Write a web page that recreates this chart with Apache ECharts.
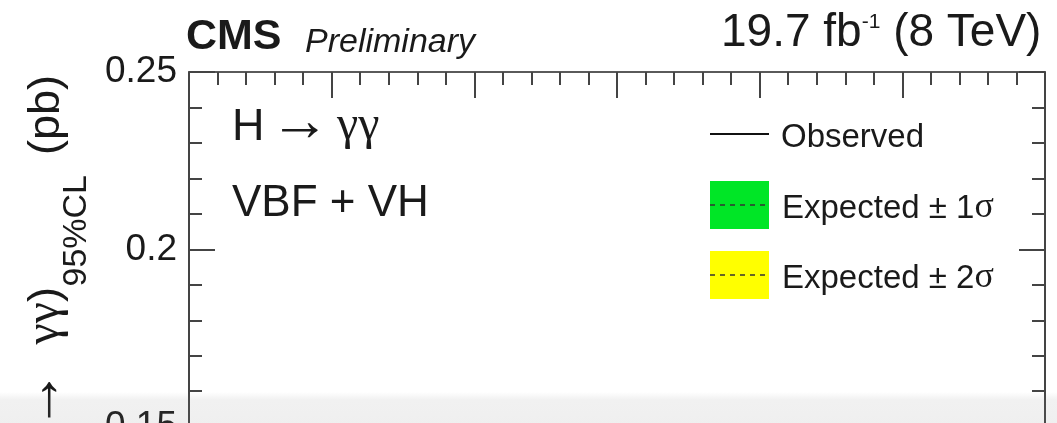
<!DOCTYPE html>
<html>
<head>
<meta charset="utf-8">
<script src="https://cdn.jsdelivr.net/npm/echarts@6/dist/echarts.min.js"></script>
<style>
  html, body { margin: 0; padding: 0; background: #fff; overflow: hidden; }
  #chart { width: 1057px; height: 640px; }
</style>
</head>
<body>
<div id="chart"></div>
<script>
// ---- data (curves lie below the visible part of the plot) ----
const xRange = [200, 800];           // x axis extent (labels off-screen)
const yRange = [0.10, 0.25];         // y axis extent
const yTickValues = [0.1, 0.15, 0.2, 0.25];
const observed = [];                 // observed limit (not visible in crop)
const expected = [];                 // expected limit (not visible in crop)
const legendLabels = ['Observed', 'Expected \u00b1 1\u03c3', 'Expected \u00b1 2\u03c3'];
const cmsLabel = 'CMS';
const prelimLabel = 'Preliminary';
const lumiMain = '19.7 fb';
const lumiSup = '-1';
const lumiEnd = ' (8 TeV)';
const channelLines = ['H \u2192 \u03b3\u03b3', 'VBF + VH'];

const SANS = "'Liberation Sans', Arial, Helvetica, sans-serif";
const SERIF = "'Liberation Serif', 'Times New Roman', serif";
const ARROW = SANS;
const INK = '#1a1a1a';
const AX = '#444';
const MID = 0.3465;   // baseline offset below text middle, in em

const mctx = document.createElement('canvas').getContext('2d');
function measure(t, size, fam, bold, italic) {
  mctx.font = (italic ? 'italic ' : '') + (bold ? 'bold ' : '') + size + 'px ' + fam;
  return mctx.measureText(t).width;
}

function txt(x, y, text, size, opts) {
  opts = opts || {};
  return {
    type: 'text', x: x, y: y, z: 100,
    style: {
      text: text, fontFamily: opts.fam || SANS, fontSize: size,
      fontWeight: opts.bold ? 'bold' : 'normal',
      fontStyle: opts.italic ? 'italic' : 'normal',
      fill: opts.color || INK,
      align: opts.align || 'left',
      verticalAlign: 'middle'
    }
  };
}
function base(x, baseline, text, size, opts) {
  return txt(x, baseline - MID * size, text, size, opts);
}
function seq(x, baseline, pieces) {
  const out = [];
  let cx = x;
  pieces.forEach(p => {
    const fam = p.fam || SANS;
    const y = (p.mid !== undefined) ? p.mid : (baseline + (p.dy || 0) - MID * p.size);
    out.push(txt(cx, y, p.t, p.size, { fam: fam }));
    cx += measure(p.t, p.size, fam);
  });
  return out;
}
function seqWidth(pieces) {
  return pieces.reduce((s, p) => s + measure(p.t, p.size, p.fam || SANS), 0);
}

const chart = echarts.init(document.getElementById('chart'), null, { renderer: 'canvas' });

const tickStyle = { color: AX, width: 2 };
function yAxisCfg(pos, showLabels) {
  return {
    type: 'value', position: pos, min: yRange[0], max: yRange[1], interval: 0.05,
    axisLine: { show: true, lineStyle: { color: AX, width: 2 } },
    axisTick: { show: true, inside: true, length: 26, lineStyle: tickStyle },
    minorTick: { show: true, splitNumber: 5, length: 13, lineStyle: tickStyle },
    splitLine: { show: false },
    axisLabel: {
      show: showLabels, margin: 12, fontSize: 37, fontFamily: SANS, color: INK,
      formatter: v => {
        const t = yTickValues.find(k => Math.abs(k - v) < 1e-9);
        return t === undefined ? '' : String(+t.toFixed(2));
      }
    }
  };
}
function xAxisCfg(pos) {
  return {
    type: 'value', position: pos, min: xRange[0], max: xRange[1], interval: 100,
    axisLine: { show: true, onZero: false, lineStyle: { color: pos === 'top' ? '#5a5a5a' : AX, width: 2 } },
    axisTick: { show: true, inside: true, length: 26, lineStyle: tickStyle },
    minorTick: { show: true, splitNumber: 5, length: 13, lineStyle: tickStyle },
    splitLine: { show: false },
    axisLabel: { show: false }
  };
}

const graphics = [];
// top labels
graphics.push(base(186, 52, cmsLabel, 43, { bold: true }));
graphics.push(base(305, 54, prelimLabel, 34, { italic: true }));
graphics.push(...seq(721, 49, [
  { t: lumiMain, size: 46 },
  { t: lumiSup, size: 21, dy: -20 },
  { t: lumiEnd, size: 46 }
]));
// channel text
graphics.push(base(232, 143, 'H', 45));
graphics.push(txt(270, 123, '\u2192', 60, { fam: ARROW }));
graphics.push(base(337, 143, '\u03b3\u03b3', 48, { fam: SERIF }));
graphics.push(base(232, 219, channelLines[1], 44));

// legend
graphics.push({ type: 'line', z: 100, shape: { x1: 710, y1: 134, x2: 769, y2: 134 },
  style: { stroke: '#111', lineWidth: 2 } });
graphics.push(base(781, 149.5, legendLabels[0], 33));
[[181, '#00e626', 220, 'Expected \u00b1 1'], [251, '#ffff00', 290, 'Expected \u00b1 2']].forEach(r => {
  graphics.push({ type: 'rect', z: 100, shape: { x: 710, y: r[0], width: 59, height: 48 },
    style: { fill: r[1] } });
  graphics.push({ type: 'line', z: 101, shape: { x1: 710, y1: r[0] + 24, x2: 769, y2: r[0] + 24 },
    style: { stroke: '#333', lineWidth: 1.5, lineDash: [5, 5] } });
  graphics.push(...seq(782, r[2], [
    { t: r[3], size: 33 },
    { t: '\u03c3', size: 36, fam: SERIF }
  ]));
});

// rotated y-axis title: sigma(H -> gamma gamma)_95%CL (pb), reading bottom to top
const TB = 62;    // main baseline (screen x)
const titlePieces = [
  { t: '\u03c3', size: 48, fam: SERIF },
  { t: '(H ', size: 45 },
  { t: '\u2192', size: 60, fam: ARROW, mid: 42 },
  { t: '  ', size: 45 },
  { t: '\u03b3\u03b3', size: 48, fam: SERIF },
  { t: ')', size: 45 }
];
const titleStart = -212 - seqWidth(titlePieces);
const unitW = measure('(pb)', 45, SANS);
const subW = measure('95%CL', 34, SANS);
graphics.push({
  type: 'group', x: 0, y: 75, rotation: Math.PI / 2, z: 100,
  children: [].concat(
    seq(titleStart, TB, titlePieces),
    seq(-100 - subW, 88, [{ t: '95%CL', size: 34 }]),
    seq(-unitW, TB, [{ t: '(pb)', size: 45 }])
  )
});

// bottom translucent band (overlay in the reference picture)
graphics.push({
  type: 'rect', z: 200, shape: { x: 0, y: 392, width: 1057, height: 60 },
  style: {
    fill: new echarts.graphic.LinearGradient(0, 0, 0, 1, [
      { offset: 0, color: 'rgba(128,128,128,0)' },
      { offset: 0.13, color: 'rgba(128,128,128,0.11)' },
      { offset: 1, color: 'rgba(128,128,128,0.14)' }
    ])
  }
});

chart.setOption({
  animation: false,
  backgroundColor: '#fff',
  grid: { left: 189, top: 72, width: 856, height: 532, containLabel: false, outerBoundsMode: 'none' },
  xAxis: [xAxisCfg('bottom'), xAxisCfg('top')],
  yAxis: [yAxisCfg('left', true), yAxisCfg('right', false)],
  series: [
    { name: legendLabels[2], type: 'line', xAxisIndex: 0, yAxisIndex: 0, data: expected, showSymbol: false,
      lineStyle: { color: '#333', type: 'dashed' } },
    { name: legendLabels[0], type: 'line', xAxisIndex: 0, yAxisIndex: 0, data: observed, showSymbol: false,
      lineStyle: { color: '#111', width: 2 } }
  ],
  graphic: graphics
});
</script>
</body>
</html>
